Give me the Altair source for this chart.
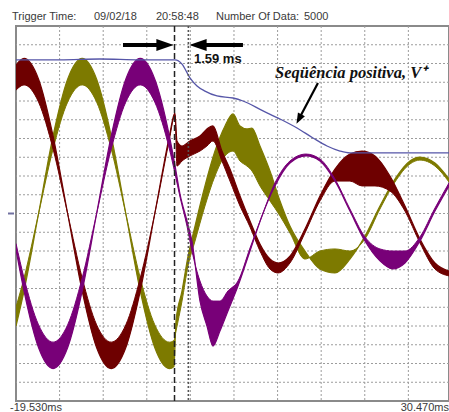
import altair as alt
import pandas as pd

# Oscilloscope capture: three phase voltages before/after a fault, plus the
# positive-sequence magnitude.  Time in ms, amplitude in screen divisions.

T_MIN, T_MAX = -19.53, 30.13
V_MIN, V_MAX = -10.0, 10.0

# phase A (dark red): outer and inner edge of the ripple band
red_t = [-19.53, -18.61, -16.94, -15.28, -13.61, -11.94, -10.28, -8.61, -6.94, -5.28, -3.61, -1.94, -1.41,
         -1.30, -1.07, -0.49, 0.42, 1.57, 2.37, 3.06, 4.09, 5.01, 6.16, 7.31, 8.45, 9.60, 10.52, 11.89,
         13.61, 15.33, 17.05, 18.77, 20.15, 21.64, 23.36, 25.08, 26.80, 28.52, 30.13]
red_hi = [7.93, 8.27, 7.16, 4.14, 0.0, -4.14, -7.16, -8.27, -7.16, -4.14, 0.0, 4.14, 5.27,
          5.36, 3.87, 3.60, 3.87, 4.13, 4.51, 4.67, 3.33, 2.37, 0.93, -0.40, -1.63, -2.43, -2.64, -2.27,
          -0.83, 0.93, 2.37, 3.17, 3.33, 3.07, 2.00, 0.40, -1.36, -2.64, -3.07]
red_lo = [6.58, 6.86, 5.94, 3.44, 0.0, -3.44, -5.94, -6.86, -5.94, -3.44, 0.0, 3.95, 5.15,
          5.25, 2.53, 2.80, 3.07, 3.33, 3.60, 3.87, 2.80, 1.73, 0.40, -0.72, -2.00, -2.96, -3.17, -2.64,
          -1.04, 0.67, 1.73, 1.73, 1.47, 1.47, 1.20, 0.13, -1.57, -2.96, -3.33]

# phase B (olive)
olive_t = [-19.53, -18.61, -16.94, -15.28, -13.61, -11.94, -10.28, -8.61, -6.94, -5.28, -3.61, -1.94, -1.41,
           -1.18, -0.49, 0.20, 1.00, 2.14, 3.29, 4.44, 5.36, 6.16, 6.96, 7.53, 8.45, 9.60, 10.75, 11.89,
           13.61, 15.33, 17.05, 18.77, 20.49, 22.21, 23.93, 25.65, 26.80, 28.52, 30.13]
olive_hi = [-6.01, -4.14, 0.0, 4.14, 7.16, 8.27, 7.16, 4.14, 0.0, -4.14, -7.16, -8.27, -8.16,
            -5.73, -4.13, -2.27, -0.67, 1.47, 3.33, 4.67, 5.31, 4.67, 4.51, 4.56, 3.60, 2.27, 0.67, -0.67,
            -2.00, -2.96, -3.17, -2.43, -1.20, 0.40, 1.84, 2.80, 3.01, 2.69, 1.84]
olive_lo = [-4.99, -3.44, 0.0, 3.44, 5.94, 6.86, 5.94, 3.44, 0.0, -3.44, -5.94, -6.86, -6.77,
            -6.27, -4.67, -2.80, -1.47, 0.40, 2.00, 3.07, 3.33, 2.80, 2.53, 2.27, 1.47, 0.67, -0.13, -1.04,
            -2.43, -2.00, -1.89, -2.00, -1.36, 0.24, 1.68, 2.64, 2.85, 2.53, 1.68]

# phase C (purple)
purple_t = [-19.53, -18.61, -16.94, -15.28, -13.61, -11.94, -10.28, -8.61, -6.94, -5.28, -3.61, -1.94, -1.30,
            -0.72, 0.08, 0.65, 1.57, 2.37, 3.06, 3.86, 4.78, 5.93, 7.31, 8.68, 10.17, 11.89,
            13.73, 15.33, 17.05, 18.77, 20.49, 22.21, 23.70, 25.08, 26.80, 28.52, 30.13]
purple_hi = [-1.93, -4.14, -7.16, -8.27, -7.16, -4.14, 0.0, 4.14, 7.16, 8.27, 7.16, 4.14, 2.58,
             1.04, -0.40, -1.47, -4.67, -6.00, -7.07, -6.27, -5.20, -3.87, -2.00, -0.13, 1.47, 2.69,
             3.07, 2.80, 1.73, 0.13, -1.47, -2.53, -2.96, -2.64, -1.47, 0.13, 1.47]
purple_lo = [-1.60, -3.44, -5.94, -6.86, -5.94, -3.44, 0.0, 3.44, 5.94, 6.86, 5.94, 3.44, 2.14,
             0.88, -0.67, -2.00, -3.60, -4.40, -4.67, -4.67, -4.13, -3.60, -1.84, -0.13, 1.63, 2.80,
             3.17, 2.91, 1.84, 0.24, -1.25, -1.89, -2.00, -2.00, -1.25, 0.29, 1.63]

# positive-sequence magnitude
seq_t = [-19.53, -14.48, -9.90, -5.31, -1.30, -0.49, 0.42, 1.23, 2.14, 3.52, 5.36, 6.50, 8.80, 10.75,
         12.70, 14.53, 16.14, 17.63, 18.77, 30.13]
seq_v = [8.19, 8.19, 8.24, 8.19, 8.19, 7.97, 7.23, 6.80, 6.53, 6.27, 6.16, 6.00, 5.47, 5.04,
         4.56, 4.03, 3.60, 3.33, 3.23, 3.23]

# grid (5 ms / div horizontally, 1 div vertically)
grid_t = [-14.53, -9.53, -4.53, 0.47, 5.47, 10.47, 15.47, 20.47, 25.47]
grid_v = [-9, -8, -7, -6, -5, -4, -3, -2, -1, 0, 1, 2, 3, 4, 5, 6, 7, 8, 9]

# cursors and the interval between them
cursor_t = [-1.35, 0.24]
interval_label = "1.59 ms"

header_labels = ["Trigger Time:", "09/02/18", "20:58:48", "Number Of Data:", "5000"]
time_labels = ["-19.530ms", "30.470ms"]
seq_label = "Seqüência positiva, V⁺"

xs = alt.Scale(domain=[T_MIN, T_MAX], nice=False, zero=False)
ys = alt.Scale(domain=[V_MIN, V_MAX], nice=False, zero=False)
X = lambda f="t": alt.X(f"{f}:Q", scale=xs, axis=None)
Y = lambda f: alt.Y(f"{f}:Q", scale=ys, axis=None)

FONT = "Liberation Sans"

# grid lines
vgrid = alt.Chart(pd.DataFrame({"t": grid_t})).mark_rule(
    color="#9c9c9c", strokeWidth=1, strokeDash=[2, 2]).encode(x=X())
hgrid = alt.Chart(pd.DataFrame({"v": grid_v})).mark_rule(
    color="#9c9c9c", strokeWidth=1, strokeDash=[2, 2]).encode(y=Y("v"))


def phase(ts, hi, lo, color):
    df = pd.DataFrame({"t": ts, "hi": hi, "lo": lo})
    band = alt.Chart(df).mark_area(color=color, interpolate="monotone", clip=True,
                                   opacity=1).encode(x=X(), y=Y("hi"), y2="lo:Q")
    edge_hi = alt.Chart(df).mark_line(color=color, interpolate="monotone", clip=True,
                                      strokeWidth=1.2).encode(x=X(), y=Y("hi"))
    edge_lo = alt.Chart(df).mark_line(color=color, interpolate="monotone", clip=True,
                                      strokeWidth=1.0).encode(x=X(), y=Y("lo"))
    return band + edge_hi + edge_lo


olive = phase(olive_t, olive_hi, olive_lo, "#7d7a00")
red = phase(red_t, red_hi, red_lo, "#6e0000")
purple = phase(purple_t, purple_hi, purple_lo, "#780078")

seq = alt.Chart(pd.DataFrame({"t": seq_t, "v": seq_v})).mark_line(
    color="#5656a8", strokeWidth=1.3, interpolate="monotone", clip=True).encode(x=X(), y=Y("v"))

# cursors
cur1 = alt.Chart(pd.DataFrame({"t": cursor_t[:1]})).mark_rule(
    color="#222222", strokeWidth=1.5, strokeDash=[6, 3]).encode(x=X())
cur2 = alt.Chart(pd.DataFrame({"t": cursor_t[1:]})).mark_rule(
    color="#555555", strokeWidth=1.6, strokeDash=[2, 2]).encode(x=X())

# interval arrows pointing at the cursors
ARROW_V = 8.99
shafts = alt.Chart(pd.DataFrame({"t": [-7.26, 1.92], "t2": [-3.02, 6.50], "v": [ARROW_V, ARROW_V]})).mark_rule(
    color="black", strokeWidth=4).encode(x=X(), x2="t2:Q", y=Y("v"))
head_r = alt.Chart(pd.DataFrame({"t": [-2.44], "v": [ARROW_V]})).mark_point(
    shape="M -1 -0.7 L 1 0 L -1 0.7 Z", size=300, filled=True, color="black", opacity=1).encode(x=X(), y=Y("v"))
head_l = alt.Chart(pd.DataFrame({"t": [1.34], "v": [ARROW_V]})).mark_point(
    shape="M 1 -0.7 L -1 0 L 1 0.7 Z", size=300, filled=True, color="black", opacity=1).encode(x=X(), y=Y("v"))
interval = alt.Chart(pd.DataFrame({"t": [0.88], "v": [8.24], "txt": [interval_label]})).mark_text(
    align="left", baseline="middle", font=FONT, fontSize=13, fontWeight="bold", color="#111111"
).encode(x=X(), y=Y("v"), text="txt:N")

# annotation for the positive-sequence curve
seq_text = alt.Chart(pd.DataFrame({"t": [10.17], "v": [7.49], "txt": [seq_label]})).mark_text(
    align="left", baseline="middle", font="Liberation Serif", fontSize=16.5, fontWeight="bold",
    fontStyle="italic", color="#111111").encode(x=X(), y=Y("v"), text="txt:N")
seq_shaft = alt.Chart(pd.DataFrame({"t": [15.10], "t2": [13.10], "v": [6.96], "v2": [5.20]})).mark_rule(
    color="black", strokeWidth=2.2).encode(x=X(), x2="t2:Q", y=Y("v"), y2="v2:Q")
seq_head = alt.Chart(pd.DataFrame({"t": [12.92], "v": [5.04]})).mark_point(
    shape="M 0 -1 L 0.75 1 L -0.75 1 Z", size=110, filled=True, color="black", opacity=1, angle=208
).encode(x=X(), y=Y("v"))

# header line and time-base labels outside the plot frame
header_x = [-4, 78, 140, 200, 288]
header = alt.layer(*[
    alt.Chart(pd.DataFrame({"txt": [lab]})).mark_text(
        align="left", baseline="alphabetic", font=FONT, fontSize=11, color="#3a3a3a"
    ).encode(x=alt.value(px), y=alt.value(-6), text="txt:N")
    for lab, px in zip(header_labels, header_x)
])
foot = [("left", -6), ("right", 433)]
footer = alt.layer(*[
    alt.Chart(pd.DataFrame({"txt": [lab]})).mark_text(
        align=al, baseline="alphabetic", font=FONT, fontSize=11, color="#3a3a3a"
    ).encode(x=alt.value(px), y=alt.value(385), text="txt:N")
    for lab, (al, px) in zip(time_labels, foot)
])
zero_tick = alt.Chart(pd.DataFrame({"v": [0]})).mark_rule(
    color="#7070a0", strokeWidth=2).encode(x=alt.value(-8), x2=alt.value(-2), y=Y("v"))

chart = alt.layer(
    vgrid, hgrid, olive, red, purple, seq, cur1, cur2, shafts, head_r, head_l, interval,
    seq_shaft, seq_head, seq_text, header, footer, zero_tick
).properties(
    width=433, height=375, autosize="none",
    padding={"left": 16, "top": 26, "right": 0, "bottom": 11},
    background="white"
).configure_view(stroke="#8a8a8a", strokeWidth=2)

chart.save("out.html", embed_options={"renderer": "svg", "actions": False})
